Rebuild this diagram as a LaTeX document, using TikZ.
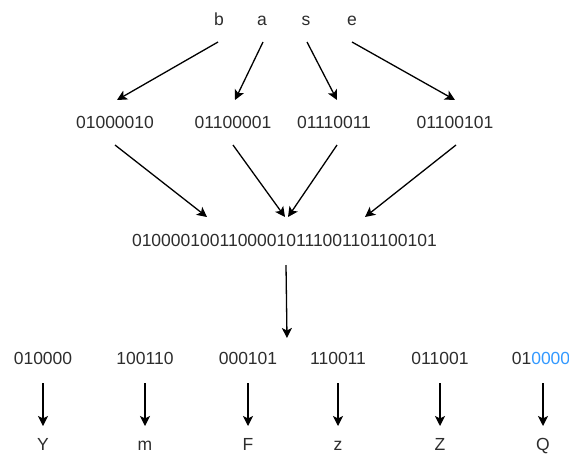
\documentclass[tikz,border=0pt]{standalone}
\usepackage{fontspec}
\setmainfont{Liberation Sans}
\usetikzlibrary{arrows.meta}
\definecolor{txt}{RGB}{45,45,45}
\definecolor{bluetxt}{RGB}{51,153,255}
\begin{document}
\begin{tikzpicture}[x=1pt,y=-1pt,
  lbl/.style={inner sep=0pt,anchor=center,text=txt,font=\fontsize{17.5}{20}\selectfont},
  let/.style={lbl,anchor=base},
  arr/.style={line width=1.3pt,-{Stealth[length=10pt,width=10pt,inset=2.5pt]}}]
\useasboundingbox (0,0) rectangle (569,453);
% top letters
\node[let] (b) at (219,25) {b};
\node[let] (a) at (262,25) {a};
\node[let] (s) at (306,25) {s};
\node[let] (e) at (352,25) {e};
% row 2
\node[lbl] (n1) at (115,122) {01000010};
\node[lbl] (n2) at (233,122) {01100001};
\node[lbl] (n3) at (334,122) {01110011};
\node[lbl] (n4) at (455,122) {01100101};
% long string
\node[lbl] (all) at (284.5,240) {01000010011000010111001101100101};
% row 4
\node[lbl] (g1) at (43,358) {010000};
\node[lbl] (g2) at (145,358) {100110};
\node[lbl] (g3) at (248,358) {000101};
\node[lbl] (g4) at (338,358) {110011};
\node[lbl] (g5) at (440,358) {011001};
\node[lbl] (g6) at (541,358) {01\textcolor{bluetxt}{0000}};
% letters
\node[let] (c1) at (43,450) {Y};
\node[let] (c2) at (145,450) {m};
\node[let] (c3) at (248,450) {F};
\node[let] (c4) at (338,450) {z};
\node[let] (c5) at (440,450) {Z};
\node[let] (c6) at (543,450) {Q};
% connector end points
\coordinate (bs) at (218,42); \coordinate (bt) at (117,100);
\coordinate (as) at (263,42); \coordinate (at) at (235,100);
\coordinate (ss) at (307,42); \coordinate (st) at (337,100);
\coordinate (es) at (352,42); \coordinate (et) at (455,100);
\coordinate (n1s) at (115,145); \coordinate (n1t) at (207,217);
\coordinate (n2s) at (233,145); \coordinate (n2t) at (285,217);
\coordinate (n3s) at (337,145); \coordinate (n3t) at (288,217);
\coordinate (n4s) at (456,145); \coordinate (n4t) at (365,217);
\coordinate (alls) at (286,265); \coordinate (allt) at (287,338);
\draw[arr] (bs) -- (bt);
\draw[arr] (as) -- (at);
\draw[arr] (ss) -- (st);
\draw[arr] (es) -- (et);
\draw[arr] (n1s) -- (n1t);
\draw[arr] (n2s) -- (n2t);
\draw[arr] (n3s) -- (n3t);
\draw[arr] (n4s) -- (n4t);
\draw[arr] (alls) -- (allt);
\foreach \x [count=\i] in {43,145,248,338,440,543}{
  \coordinate (d\i s) at (\x,383);
  \coordinate (d\i t) at (\x,426);
  \draw[arr] (d\i s) -- (d\i t);
}
\end{tikzpicture}
\end{document}
